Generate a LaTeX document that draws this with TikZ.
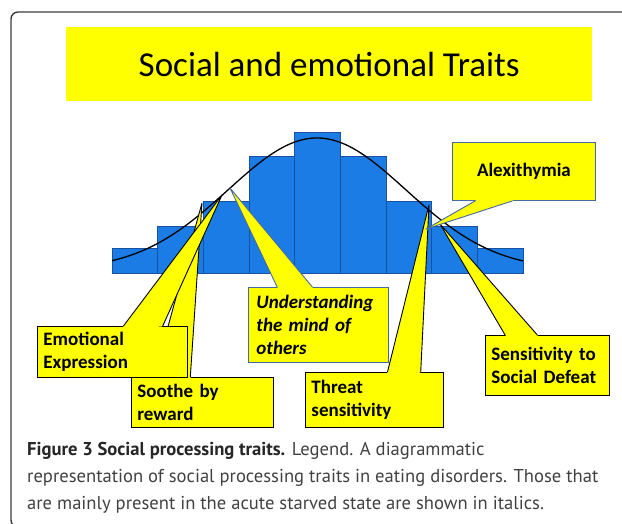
\documentclass[tikz,border=0pt]{standalone}
\usepackage{fontspec}
\setmainfont{Carlito}
\newfontfamily\captionfont{PT Sans}
\usetikzlibrary{calc,positioning}
\definecolor{barblue}{RGB}{28,124,230}
\definecolor{baredge}{RGB}{25,80,160}
\definecolor{tagyellow}{RGB}{255,255,0}
\definecolor{tagblue}{RGB}{70,105,160}
\definecolor{frameline}{RGB}{60,60,60}
\definecolor{captext}{RGB}{65,65,65}
\tikzset{
    bar/.style={fill=barblue, draw=baredge, line width=0.6},   % histogram column
    tag/.style={fill=tagyellow, draw=#1, line width=0.9, inner xsep=6,
        inner ysep=0, align=left, anchor=north west,
        font=\bfseries\fontsize{19}{23}\selectfont},           % callout box
    tag/.default=black,
}
% pointer of callout #2, leaving its edge #3 between fractions #4 and #5,
% ending at (#2-tip); #1 = outline colour
\newcommand\tagpointer[5]{%
    \coordinate (#2-a) at ($(#2.#3 west)!#4!(#2.#3 east)$);
    \coordinate (#2-b) at ($(#2.#3 west)!#5!(#2.#3 east)$);
    \fill[tagyellow] ($(#2-a)!1.5pt!(#2.center)$) -- (#2-a) -- (#2-tip)
        -- (#2-b) -- ($(#2-b)!1.5pt!(#2.center)$) -- cycle;
    \draw[#1, line width=0.9, line join=round] (#2-a) -- (#2-tip) -- (#2-b);
}

\begin{document}
\begin{tikzpicture}[x=1pt, y=-1pt]
    \useasboundingbox (0,0) rectangle (622,523);
    \clip (0,0) rectangle (622,523);

    % frame and title
    \draw[frameline, line width=1.4, rounded corners=7] (11,12) rectangle (660,527);
    \node[fill=tagyellow, minimum width=526, minimum height=74, anchor=north west,
        font=\fontsize{35}{42}\selectfont] (title) at (66,27) {Social and emotional Traits};

    % histogram
    \foreach \h [count=\i from 0, evaluate=\i as \x using 112+\i*45.67] in
        {248,226,201,156,132,156,201,226,248}
        \draw[bar] (\x,273) rectangle (\x+45.67,\h);

    % normal curve
    \draw[line width=1.3] plot[domain=112:523, samples=90, smooth]
        (\x, {270-132*exp(-0.5*((\x-317)/89)^2)});

    % where the pointers end
    \coordinate (soothe-tip) at (202,203);
    \coordinate (emo-tip)    at (222,195);
    \coordinate (mind-tip)   at (230,188);
    \coordinate (threat-tip) at (429,205);
    \coordinate (alex-tip)   at (426,229);
    \coordinate (defeat-tip) at (440,224);

    % callouts
    \node[tag, minimum width=142, minimum height=50, text width=130] (soothe) at (131,377)
        {Soothe by\\reward};
    \tagpointer{black}{soothe}{north}{0.162}{0.415}

    \node[tag, minimum width=150, minimum height=51, text width=138] (emo) at (37,326)
        {Emotional\\Expression};
    \tagpointer{black}{emo}{north}{0.573}{0.833}

    \node[tag=tagblue, inner xsep=8, minimum width=140, minimum height=75, text width=124,
        font=\bfseries\itshape\fontsize{19}{23}\selectfont] (mind) at (248,287)
        {Understanding\\the mind of\\others};
    \tagpointer{tagblue}{mind}{north}{0.207}{0.457}

    \node[tag, minimum width=138, minimum height=55, text width=126] (threat) at (305,372)
        {Threat\\sensitivity};
    \tagpointer{black}{threat}{north}{0.594}{0.833}

    \node[tag, minimum width=124, minimum height=60, text width=112] (defeat) at (485,335)
        {Sensitivity to\\Social Defeat};
    \tagpointer{black}{defeat}{north}{0.161}{0.419}

    \node[tag=tagblue, align=center, minimum width=143, minimum height=58, text width=131]
        (alex) at (452,142) {Alexithymia};
    \tagpointer{tagblue}{alex}{south}{0.161}{0.42}

    % figure legend
    \node[anchor=north west, align=left, inner sep=0, text=captext,
        font=\captionfont\fontsize{18.6}{27}\selectfont] (legend) at (27,442)
        {{\color{black!85}\bfseries Figure 3 Social processing traits.} Legend. A diagrammatic\\
        representation of social processing traits in eating disorders. Those that\\
        are mainly present in the acute starved state are shown in italics.};
\end{tikzpicture}
\end{document}
